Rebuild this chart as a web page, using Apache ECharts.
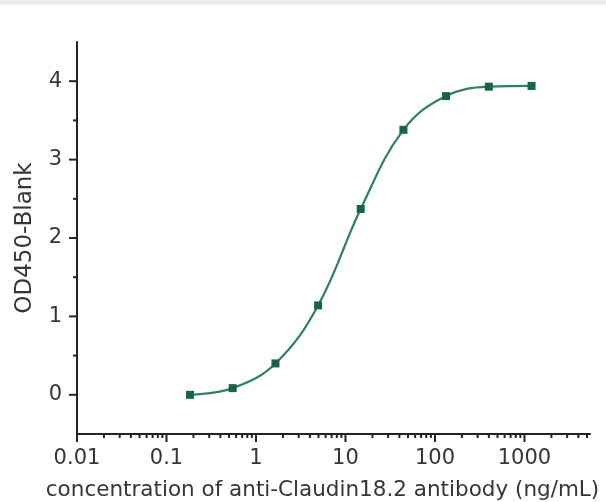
<!DOCTYPE html>
<html><head><meta charset="utf-8">
<script src="https://cdn.jsdelivr.net/npm/echarts@6/dist/echarts.min.js"></script>
<style>html,body{margin:0;padding:0;background:#fff}#c{width:606px;height:502px}</style>
</head><body><div id="c"></div>
<script>
// Data (3-fold dilution series)
const concentration = [0.183, 0.549, 1.65, 4.94, 14.8, 44.4, 133, 400, 1200];
const od450 = [0.0, 0.085, 0.40, 1.14, 2.37, 3.38, 3.81, 3.93, 3.94];

// Axis tick values
const xMajorTicks = [0.01, 0.1, 1, 10, 100, 1000];
const xMinorTicks = [0.02, 0.03, 0.04, 0.05, 0.06, 0.07, 0.08, 0.09,
  0.2, 0.3, 0.4, 0.5, 0.6, 0.7, 0.8, 0.9,
  2, 3, 4, 5, 6, 7, 8, 9,
  20, 30, 40, 50, 60, 70, 80, 90,
  200, 300, 400, 500, 600, 700, 800, 900,
  2000, 3000, 4000, 5000];
const yMajorTicks = [0, 1, 2, 3, 4];
const yMinorTicks = [0.5, 1.5, 2.5, 3.5];

const X_MIN = 0.01, X_MAX = 5400, Y_MIN = -0.5, Y_MAX = 4.5;
const AXIS_COLOR = '#2b2020';
const TEXT_COLOR = '#363636';
const FONT = 'DejaVu Sans';

function xTickSeries(values, len) {
  return {
    type: 'custom', silent: true, clip: false, z: 5,
    data: values.map(v => [v, Y_MIN]),
    renderItem: function (params, api) {
      const p = api.coord([api.value(0), Y_MIN]);
      return { type: 'line', shape: { x1: p[0], y1: p[1], x2: p[0], y2: p[1] + len },
        style: { stroke: AXIS_COLOR, lineWidth: 2 } };
    }
  };
}
function yTickSeries(values, len) {
  return {
    type: 'custom', silent: true, clip: false, z: 5,
    data: values.map(v => [X_MIN, v]),
    renderItem: function (params, api) {
      const p = api.coord([X_MIN, api.value(1)]);
      return { type: 'line', shape: { x1: p[0] - len, y1: p[1], x2: p[0], y2: p[1] },
        style: { stroke: AXIS_COLOR, lineWidth: 2 } };
    }
  };
}

const chart = echarts.init(document.getElementById('c'), null, { renderer: 'canvas' });
chart.setOption({
  animation: false,
  backgroundColor: '#ffffff',
  graphic: [{ type: 'rect', left: 0, top: 0, shape: { width: 606, height: 5 }, style: { fill: '#efebea' }, silent: true }],
  grid: { left: 77, right: 16, top: 42, bottom: 68, containLabel: false, outerBoundsMode: 'none' },
  xAxis: {
    type: 'log', logBase: 10, min: X_MIN, max: X_MAX,
    name: 'concentration of anti-Claudin18.2 antibody (ng/mL)',
    nameLocation: 'middle', nameGap: 45,
    nameTextStyle: { color: TEXT_COLOR, fontSize: 21.5, fontFamily: FONT, padding: [0, 22, 0, 0] },
    axisLine: { show: true, onZero: false, lineStyle: { color: AXIS_COLOR, width: 2 } },
    axisTick: { show: false },
    splitLine: { show: false },
    axisLabel: {
      color: TEXT_COLOR, fontSize: 21, fontFamily: FONT, margin: 14,
      showMaxLabel: false,
      formatter: function (v) { return xMajorTicks.indexOf(v) >= 0 ? String(v) : ''; }
    }
  },
  yAxis: {
    type: 'value', min: Y_MIN, max: Y_MAX, interval: 0.5,
    name: 'OD450-Blank', nameLocation: 'middle', nameGap: 40,
    nameTextStyle: { color: TEXT_COLOR, fontSize: 23, fontFamily: FONT },
    axisLine: { show: true, onZero: false, lineStyle: { color: AXIS_COLOR, width: 2 } },
    axisTick: { show: false },
    splitLine: { show: false },
    axisLabel: {
      color: TEXT_COLOR, fontSize: 21, fontFamily: FONT, margin: 15,
      formatter: function (v) { return Number.isInteger(v) ? String(v) : ''; }
    }
  },
  series: [
    {
      type: 'line', smooth: 0.4,
      data: concentration.map((x, i) => [x, od450[i]]),
      symbol: 'rect', symbolSize: 8,
      lineStyle: { color: '#2e8062', width: 2.2 },
      itemStyle: { color: '#1a634a' },
      z: 3
    },
    xTickSeries(xMajorTicks, 8),
    xTickSeries(xMinorTicks, 4),
    yTickSeries(yMajorTicks, 8),
    yTickSeries(yMinorTicks, 4)
  ]
});
</script>
</body></html>
